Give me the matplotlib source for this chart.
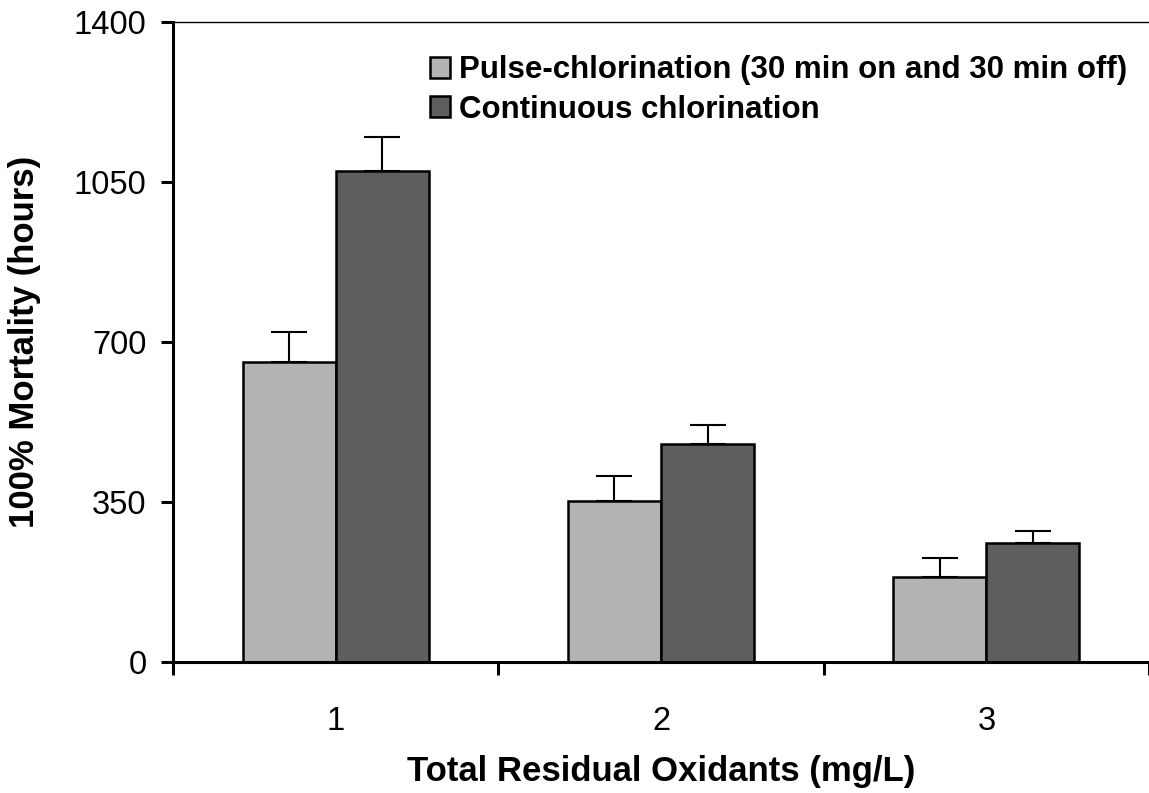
import numpy as np
import matplotlib.pyplot as plt

plt.rcParams['font.family'] = ['Liberation Sans', 'DejaVu Sans']

groups = [1, 2, 3]
pulse = [656, 352, 186]
pulse_err = [66, 55, 41]
continuous = [1074, 477, 260]
continuous_err = [74, 41, 27]

fig = plt.figure(figsize=(11.49, 7.93), dpi=100)
ax = fig.add_axes([0.1506, 0.1652, 0.8494, 0.8071])

x = np.array(groups)
w = 0.286
ekw = dict(ecolor='black', elinewidth=1.5, capsize=13, capthick=1.5)
ax.bar(x - w / 2, pulse, w, color='#b3b3b3', edgecolor='black', linewidth=1.8,
       yerr=[np.zeros(3), pulse_err], error_kw=ekw,
       label='Pulse-chlorination (30 min on and 30 min off)')
ax.bar(x + w / 2, continuous, w, color='#5e5e5e', edgecolor='black', linewidth=1.8,
       yerr=[np.zeros(3), continuous_err], error_kw=ekw,
       label='Continuous chlorination')

ax.set_xlim(0.5, 3.5)
ax.set_ylim(0, 1400)
ax.set_yticks([0, 350, 700, 1050, 1400])
ax.set_xticks(groups)
ax.set_xticks([0.5, 1.5, 2.5, 3.5], minor=True)
ax.tick_params(axis='x', which='major', length=0, pad=32, labelsize=23.5)
ax.tick_params(axis='x', which='minor', length=9, width=2.2, direction='out')
ax.tick_params(axis='y', length=9, width=2.2, direction='out', pad=10, labelsize=23.5)

ax.spines['right'].set_visible(False)
ax.spines['top'].set_linewidth(1)
ax.spines['left'].set_linewidth(2.2)
ax.spines['bottom'].set_linewidth(2.2)

ax.set_xlabel('Total Residual Oxidants (mg/L)', fontsize=25, fontweight='bold')
ax.xaxis.set_label_coords(0.5, -0.145)
ax.set_ylabel('100% Mortality (hours)', fontsize=25, fontweight='bold')
ax.yaxis.set_label_coords(-0.135, 0.5)

leg = ax.legend(loc='upper left', bbox_to_anchor=(0.2346, 0.992), frameon=False,
                prop={'size': 22.5, 'weight': 'bold'}, handlelength=0.64, handleheight=0.64,
                handletextpad=0.3, labelspacing=0.3)

fig.savefig('out.png', dpi=100)
